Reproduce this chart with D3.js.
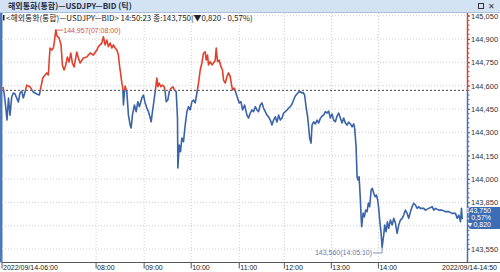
<!DOCTYPE html>
<html>
<head>
<meta charset="utf-8">
<script src="https://cdn.jsdelivr.net/npm/d3@7"></script>
<style>
  body { margin: 0; background: #fff; }
  svg { display: block; font-family: "Liberation Sans", Arial, sans-serif; }
</style>
</head>
<body>
<script>
// tick sequence numbers (tick chart, x is tick order, not clock time)
const tickNo = [1,2,3.5,5,6.5,8,9.7,11.3,13,16.3,18,19.7,21.3,23,24.7,26.3,28,31.3,34.7,37.3,38.7,40.7,43,44.7,46.3,47.3,48,49.7,51.3,52.3,53.7,55,57,59,60.3,62,63.7,65.3,67,68.7,70.3,72,74.7,76.3,78,81.3,84.7,88,91.3,94.7,
  96.3,99.7,101.3,103,104.7,106.3,108,109.7,111.3,113,114.7,116.3,117.3,118.7,119.7,120.7,121.3,122.3,123,124.7,126.3,128,129,130.3,132.3,134,135.7,137.3,139.7,141.3,143,144.7,146.3,147.3,149,150.3,151.7,153,154.7,155.7,157,158.7,160.3,162,163,164,165.7,167,169,170.7,172.3,174,175.3,175.7,177,178.3,179.7,181.3,183,184.7,186.3,188,189.7,191.3,193,
  194.7,196.3,198,199.7,201.3,203,204,205.3,206.3,208,209.7,211.3,213,214,215.3,217,218.7,220.3,221.3,223,224.7,226.3,228,229,230.3,232,233.7,235.3,237,238.7,240.3,242.3,244.7,246.3,248,249.7,251.3,253,254.7,256.3,258,259.7,261.3,263,264.7,266.3,268,269.7,271.3,273,274.7,276.3,278,279.7,281.3,283,284.7,286.3,288,289.7,291.3,293,294.7,296.3,298,299.7,301,302.3,303.7,305.3,306.3,307.3,308.7,309.7,311.3,313,314.7,316.3,318,319.7,321.3,323,324.7,326.3,328,329.7,331.3,333,334.7,336.3,338,339.7,341.3,343,344.7,346.3,348,349.7,351.3,352.3,353.7,354.7,355.7,356.7,357.3,358,358.7,359.3,360.7,362,363.3,364.7,366,367.3,368.7,370,371.3,372.7,374,375.3,376.3,377.3,378.7,379.7,381.3,382.3,383.7,385,386.3,388,389.7,391.3,393,394.7,396.3,398,399.7,401.3,403,404.7,406.3,408,409.7,411.3,413,414.7,416.3,418,421.3,423,426.3,429.7,431.3,433,436.3,439.7,443,446.3,449.7,453,454.7,456.3,458,459,459.7,460.3];
const price = [144.592,144.559,144.476,144.379,144.521,144.411,144.527,144.553,144.547,144.495,144.553,144.566,144.521,144.559,144.604,144.598,144.592,144.559,144.547,144.540,144.585,144.649,144.669,144.682,144.669,144.778,144.842,144.829,144.842,144.881,144.957,144.919,144.907,144.862,144.733,144.701,144.733,144.784,144.752,144.810,144.746,144.720,144.817,144.778,144.746,144.778,144.784,144.810,144.797,144.829,
  144.851,144.874,144.915,144.862,144.894,144.851,144.874,144.842,144.862,144.842,144.829,144.797,144.733,144.669,144.617,144.585,144.476,144.559,144.598,144.559,144.411,144.347,144.328,144.411,144.476,144.433,144.497,144.465,144.521,144.540,144.489,144.456,144.433,144.411,144.368,144.433,144.497,144.561,144.649,144.593,144.617,144.593,144.604,144.593,144.561,144.497,144.508,144.561,144.585,144.593,144.572,144.561,144.392,144.071,144.219,144.175,144.264,144.240,144.347,144.433,144.465,144.444,144.497,144.508,
  144.489,144.553,144.617,144.701,144.746,144.810,144.818,144.765,144.797,144.733,144.754,144.733,144.746,144.765,144.842,144.754,144.765,144.722,144.701,144.636,144.617,144.658,144.682,144.658,144.617,144.572,144.585,144.553,144.521,144.489,144.497,144.444,144.476,144.411,144.392,144.424,144.444,144.433,144.465,144.444,144.433,144.476,144.489,144.456,144.433,144.411,144.400,144.379,144.347,144.379,144.400,144.366,144.411,144.379,144.392,144.424,144.433,144.444,144.456,144.465,144.482,144.508,144.534,144.547,144.559,144.561,144.553,144.556,144.540,144.465,144.400,144.336,144.264,144.231,144.347,144.368,144.354,144.379,144.360,144.390,144.405,144.411,144.433,144.424,144.437,144.392,144.418,144.379,144.368,144.405,144.424,144.392,144.360,144.392,144.360,144.347,144.366,144.354,144.336,144.354,144.326,144.208,144.015,143.993,144.015,143.950,143.865,143.757,143.693,143.781,143.757,143.800,143.790,143.846,143.822,143.929,143.940,143.908,143.886,143.897,143.865,143.811,143.736,143.651,143.560,143.640,143.704,143.661,143.725,143.683,143.736,143.704,143.747,143.717,143.651,143.704,143.736,143.747,143.768,143.800,143.779,143.747,143.790,143.822,143.844,143.833,143.811,143.822,143.811,143.811,143.800,143.811,143.822,143.800,143.811,143.800,143.800,143.790,143.790,143.779,143.779,143.747,143.768,143.725,143.811,143.747,143.750];

const prevClose = 144.570;
const lastValue = 143.750;
const yTicks = [145.05,144.90,144.75,144.60,144.45,144.30,144.15,144.00,143.85,143.70,143.55];
const hourLabels = ["2022/09/14-06:00","08:00","09:00","10:00","11:00","12:00","13:00","14:00"];
const hourTickNo = [0,94,142,189,237,282,329,376];
const lastTickNo = 465;
const endLabel = "2022/09/14-14:50";
const high = { tick: 53.7, value: 144.957, label: "144,957(07:08:00)" };
const low = { tick: 379.7, value: 143.560, label: "143,560(14:05:10)" };
const lastPrice = ["143,750", "- 0,57%", "▼0,820"];

const W = 500, H = 272;
const pL = 2, pR = 467.5, pT = 13, pB = 262.5;
const RED = "#e2402c", BLUE = "#3a63aa";

const svg = d3.select("body").append("svg").attr("width", W).attr("height", H);

const x = d3.scaleLinear().domain([0, lastTickNo]).range([pL, pR]);
const y = d3.scaleLinear().domain([143.55, 145.05]).range([249, 15.7]);
const fmt = v => d3.format(".3f")(v).replace(".", ",");

// title bar
svg.append("rect").attr("x", 0).attr("y", 0).attr("width", W).attr("height", 12).attr("fill", "#d3e3f3");
svg.append("line").attr("x1", 0).attr("x2", W).attr("y1", 12.5).attr("y2", 12.5).attr("stroke", "#a9c1dc");
svg.append("text").attr("x", 8).attr("y", 9).text("해외통화(통합)—USDJPY—BID (틱)")
  .style("font-family", "Noto Sans CJK KR").style("font-size", "8px").style("font-weight", "bold").attr("fill", "#1e2a44");
svg.append("rect").attr("x", 478.5).attr("y", 3.5).attr("width", 5).attr("height", 5).attr("fill", "none").attr("stroke", "#333");
svg.append("text").attr("x", 488).attr("y", 9).text("✕").style("font-size", "8px").attr("fill", "#333");

// left border
svg.append("rect").attr("x", 0).attr("y", 13).attr("width", 2.5).attr("height", pB - 13).attr("fill", "#4f78bb");

// grid
svg.append("g").selectAll("line").data(yTicks).enter().append("line")
  .attr("x1", pL).attr("x2", pR).attr("y1", d => y(d)).attr("y2", d => y(d))
  .attr("stroke", "#cfcfcf").attr("stroke-dasharray", "1,2");
svg.append("g").selectAll("line").data(hourTickNo.slice(1)).enter().append("line")
  .attr("x1", d => x(d)).attr("x2", d => x(d)).attr("y1", pT).attr("y2", pB)
  .attr("stroke", "#cfcfcf").attr("stroke-dasharray", "1,2");

// reference line
svg.append("line").attr("x1", pL).attr("x2", pR).attr("y1", y(prevClose)).attr("y2", y(prevClose))
  .attr("stroke", "#444").attr("stroke-dasharray", "2,2");

// price line: red above previous close, blue below
const data = tickNo.map((t, i) => ({ t: t, v: price[i] }));
const line = d3.line().x(d => x(d.t)).y(d => y(d.v));
const defs = svg.append("defs");
defs.append("clipPath").attr("id", "above").append("rect")
  .attr("x", 0).attr("y", 0).attr("width", W).attr("height", y(prevClose));
defs.append("clipPath").attr("id", "below").append("rect")
  .attr("x", 0).attr("y", y(prevClose)).attr("width", W).attr("height", H);
svg.append("path").datum(data).attr("d", line).attr("fill", "none")
  .attr("stroke", RED).attr("stroke-width", 1.6).attr("stroke-linejoin", "round").attr("clip-path", "url(#above)");
svg.append("path").datum(data).attr("d", line).attr("fill", "none")
  .attr("stroke", BLUE).attr("stroke-width", 1.6).attr("stroke-linejoin", "round").attr("clip-path", "url(#below)");

// high / low notes
const hx = x(high.tick), hy = y(high.value);
svg.append("path").attr("d", `M${hx},${hy + 3}V${hy}H${hx + 7}`).attr("fill", "none").attr("stroke", RED).attr("stroke-width", 0.8);
svg.append("text").attr("x", hx + 7.5).attr("y", hy + 2.5).text(high.label)
  .style("font-size", "7px").attr("fill", "#d9503c");
const lx = x(low.tick), ly = y(low.value);
svg.append("path").attr("d", `M${lx},${ly}V${ly + 5.5}H${lx - 9}`).attr("fill", "none").attr("stroke", "#5b7bb0").attr("stroke-width", 0.8);
svg.append("text").attr("x", lx - 10).attr("y", ly + 8).attr("text-anchor", "end").text(low.label)
  .style("font-size", "7px").attr("fill", "#5b7bb0");

// info line
svg.append("rect").attr("x", 3).attr("y", 15).attr("width", 1.5).attr("height", 5.5).attr("fill", "#222");
svg.append("text").attr("x", 6).attr("y", 20.5).text("<해외통화(통합)—USDJPY—BID> 14:50:23 종:143,750(▼0,820  - 0,57%)")
  .style("font-family", "Noto Sans CJK KR").style("font-size", "7.9px").attr("fill", "#222");

// right axis
svg.append("line").attr("x1", pR).attr("x2", pR).attr("y1", pT).attr("y2", y(prevClose))
  .attr("stroke", "#c9473a").attr("stroke-width", 1.5);
svg.append("line").attr("x1", pR).attr("x2", pR).attr("y1", y(prevClose)).attr("y2", pB)
  .attr("stroke", "#4a6fb0").attr("stroke-width", 1.5);
// labels hidden behind the last-price tag are not drawn
const hidden = v => Math.abs(y(v) - y(lastValue)) < 11;
const yAxis = d3.axisRight(y).tickValues(yTicks).tickSize(2).tickFormat(v => hidden(v) ? "" : fmt(v));
const gy = svg.append("g").attr("transform", `translate(${pR + 0.5},0)`).call(yAxis);
gy.select(".domain").remove();
gy.selectAll("line").attr("stroke", "#4a6fb0");
gy.selectAll("text").attr("x", 3).style("font-size", "7.5px").style("font-family", "Liberation Sans").attr("fill", "#333");
const minor = d3.range(143.55, 145.06, 0.03);
svg.append("g").selectAll("line").data(minor).enter().append("line")
  .attr("x1", pR + 0.5).attr("x2", pR + 2).attr("y1", d => y(d)).attr("y2", d => y(d))
  .attr("stroke", d => d > prevClose ? "#c9473a" : "#4a6fb0");

// last price tag
const py = y(lastValue);
svg.append("rect").attr("x", pR + 1).attr("y", py - 11).attr("width", 34).attr("height", 22).attr("rx", 3)
  .attr("fill", "#3d6db4");
svg.selectAll(".tag").data(lastPrice).enter().append("text").attr("class", "tag")
  .attr("x", 491).attr("y", (d, i) => py - 4.5 + i * 7).attr("text-anchor", "end").text(d => d)
  .style("font-size", "7px").attr("fill", "#fff");

// bottom axis
svg.append("line").attr("x1", pL).attr("x2", W).attr("y1", pB).attr("y2", pB).attr("stroke", "#555");
const gx = svg.append("g").selectAll("g").data(hourTickNo).enter().append("g")
  .attr("transform", d => `translate(${x(d)},${pB})`);
gx.append("line").attr("y1", 0).attr("y2", 6).attr("stroke", "#555");
gx.append("text").attr("x", 1).attr("y", 7.5).text((d, i) => hourLabels[i])
  .style("font-size", "7px").attr("fill", "#222");
svg.append("text").attr("x", 497).attr("y", pB + 7.5).attr("text-anchor", "end").text(endLabel)
  .style("font-size", "7px").attr("fill", "#222");
</script>
</body>
</html>
